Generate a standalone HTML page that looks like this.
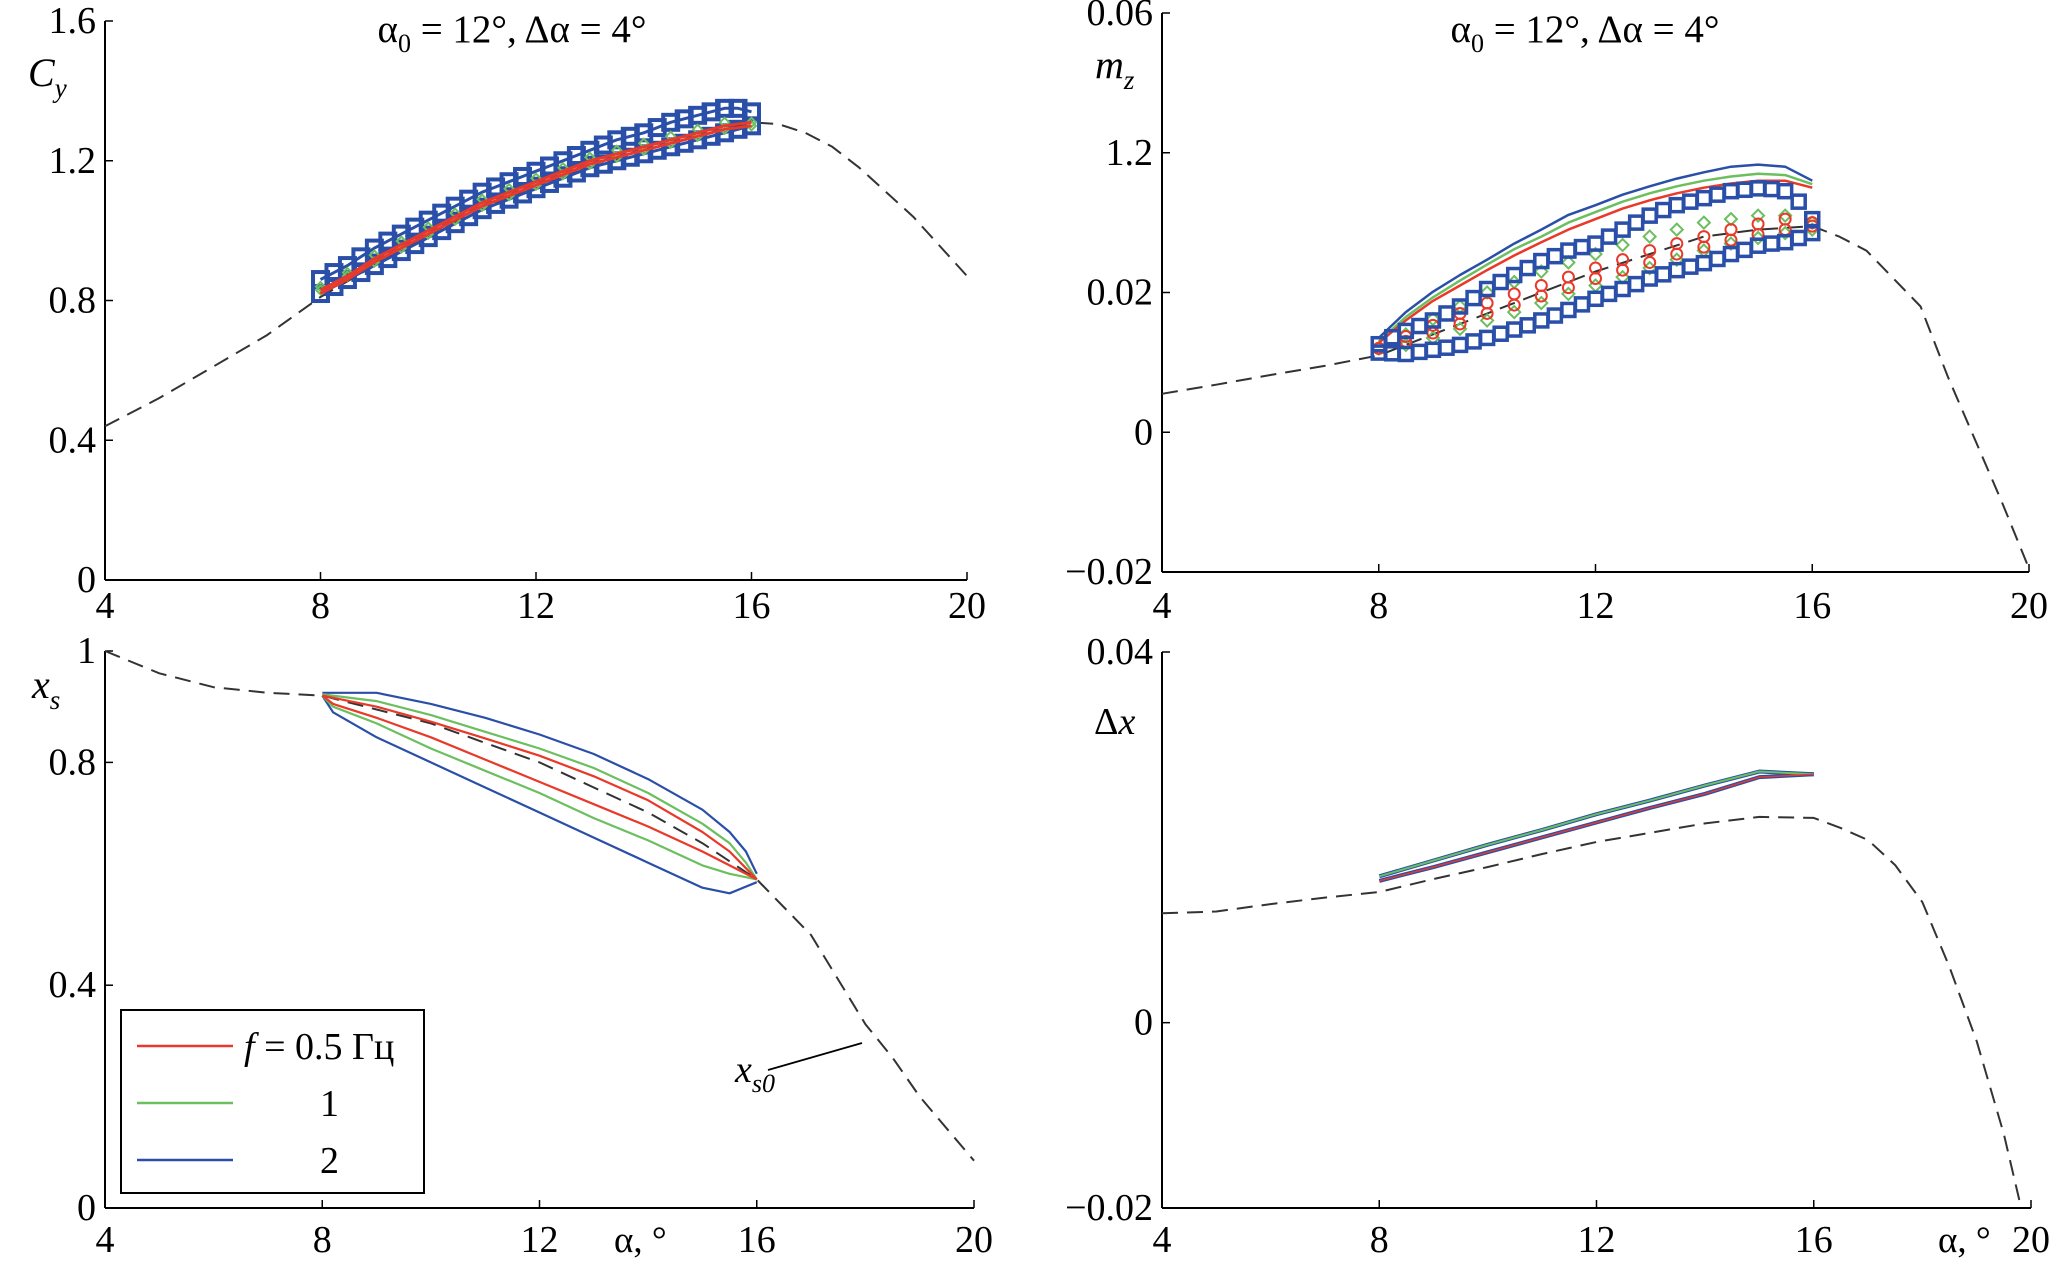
<!DOCTYPE html>
<html><head><meta charset="utf-8"><style>
html,body{margin:0;padding:0;background:#fff}
svg{display:block;font-family:"Liberation Serif",serif}
</style></head><body>
<svg id="fig" width="2067" height="1265" viewBox="0 0 2067 1265" xmlns="http://www.w3.org/2000/svg">
<g id="layer"></g>
<text x="512" y="42" font-size="39" text-anchor="middle">α<tspan font-size="26" dy="10">0</tspan><tspan dy="-10"> = 12°, Δα = 4°</tspan></text>
<text x="1585" y="42" font-size="39" text-anchor="middle">α<tspan font-size="26" dy="10">0</tspan><tspan dy="-10"> = 12°, Δα = 4°</tspan></text>
<text x="28" y="86" font-size="40" font-style="italic">C<tspan font-size="27" dy="11">y</tspan></text>
<text x="1095" y="78" font-size="40" font-style="italic">m<tspan font-size="27" dy="11">z</tspan></text>
<text x="32" y="698" font-size="40" font-style="italic">x<tspan font-size="27" dy="11">s</tspan></text>
<text x="1094" y="734" font-size="38">Δ<tspan font-style="italic">x</tspan></text>
<text x="614" y="1252" font-size="37">α, °</text>
<text x="1938" y="1252" font-size="37">α, °</text>
<g>
<rect x="121" y="1010" width="303" height="183" fill="#fff" stroke="#000" stroke-width="2"/>
<line x1="137" y1="1046" x2="233" y2="1046" stroke="#e8392a" stroke-width="2.5"/>
<text x="244" y="1059" font-size="38"><tspan font-style="italic">f</tspan> = 0.5 Гц</text>
<line x1="137" y1="1103" x2="233" y2="1103" stroke="#6cbf5f" stroke-width="2.5"/>
<text x="320" y="1116" font-size="38">1</text>
<line x1="137" y1="1160" x2="233" y2="1160" stroke="#2a4fa8" stroke-width="2.5"/>
<text x="320" y="1173" font-size="38">2</text>
</g>
<g>
<line x1="768" y1="1070" x2="862" y2="1043" stroke="#000" stroke-width="1.8"/>
<text x="735" y="1082" font-size="38" font-style="italic">x<tspan font-size="26" dy="10">s0</tspan></text>
</g>
</svg>
<script>
// ---------- data ----------
const alphaHalf=[8,8.5,9,9.5,10,10.5,11,11.5,12,12.5,13,13.5,14,14.5,15,15.5,16];
const alphaQuarter=[8,8.25,8.5,8.75,9,9.25,9.5,9.75,10,10.25,10.5,10.75,11,11.25,11.5,11.75,12,12.25,12.5,12.75,13,13.25,13.5,13.75,14,14.25,14.5,14.75,15,15.25,15.5,15.75,16];
const alphaCyBase=[4,5,6,7,8,9,10,11,12,13,14,15,16,16.5,17,17.5,18,19,20];
const cyBase=[0.44,0.52,0.61,0.7,0.81,0.9,0.99,1.06,1.13,1.18,1.23,1.27,1.31,1.305,1.28,1.24,1.18,1.04,0.87];
const cyBlueUp=[0.86,0.88,0.90,0.925,0.95,0.97,0.99,1.01,1.03,1.05,1.07,1.09,1.11,1.125,1.14,1.155,1.17,1.185,1.2,1.215,1.23,1.245,1.26,1.27,1.28,1.295,1.31,1.32,1.33,1.34,1.35,1.35,1.34];
const cyBlueDown=[0.82,0.84,0.86,0.88,0.9,0.92,0.94,0.96,0.98,1.0,1.02,1.04,1.06,1.075,1.09,1.105,1.12,1.135,1.15,1.165,1.18,1.19,1.2,1.21,1.22,1.23,1.24,1.25,1.26,1.27,1.28,1.29,1.3];
const cyGreenUp=[0.84,0.88,0.93,0.97,1.01,1.05,1.09,1.12,1.15,1.18,1.21,1.23,1.25,1.27,1.29,1.31,1.31];
const cyGreenDown=[0.83,0.87,0.91,0.95,0.99,1.03,1.07,1.1,1.13,1.16,1.19,1.21,1.23,1.25,1.27,1.29,1.3];
const cyRedUp=[0.83,0.87,0.92,0.96,1.0,1.04,1.08,1.11,1.14,1.17,1.2,1.22,1.24,1.26,1.28,1.3,1.31];
const cyRedDown=[0.82,0.86,0.91,0.95,0.99,1.03,1.07,1.1,1.13,1.16,1.19,1.21,1.23,1.25,1.27,1.29,1.3];

const alphaMzBase=[4,5,6,7,8,9,10,11,12,13,14,15,16,16.5,17,17.5,18,18.5,19,19.5,20];
const mzBase=[0.0055,0.0068,0.0082,0.0095,0.011,0.014,0.017,0.020,0.023,0.0255,0.028,0.029,0.0295,0.028,0.026,0.022,0.018,0.008,-0.001,-0.01,-0.0195];
const mzBlueSqUp=[0.0126,0.0136,0.0145,0.0152,0.016,0.017,0.018,0.0192,0.0205,0.0215,0.0225,0.0235,0.0245,0.0252,0.026,0.0265,0.027,0.028,0.029,0.030,0.031,0.0318,0.0325,0.033,0.0335,0.034,0.0345,0.0347,0.0349,0.0348,0.0345,0.033,0.0305];
const mzBlueSqDown=[0.0114,0.0113,0.0112,0.0115,0.0118,0.0121,0.0125,0.013,0.0135,0.0141,0.0147,0.0153,0.016,0.0167,0.0175,0.0183,0.0191,0.0198,0.0205,0.0212,0.022,0.0226,0.0232,0.0237,0.0242,0.0248,0.0255,0.0261,0.0267,0.027,0.0272,0.0278,0.0285];
const mzBlueLine=[0.0135,0.0172,0.0201,0.0225,0.0247,0.027,0.029,0.0311,0.0325,0.034,0.0352,0.0363,0.0372,0.038,0.0383,0.038,0.036];
const mzGreenLine=[0.013,0.0165,0.0193,0.0217,0.024,0.0262,0.028,0.03,0.0315,0.033,0.0342,0.0352,0.036,0.0366,0.037,0.0368,0.0355];
const mzRedLine=[0.0128,0.016,0.0188,0.021,0.0232,0.0253,0.0272,0.029,0.0305,0.032,0.0332,0.0342,0.035,0.0356,0.036,0.036,0.035];
const mzGreenUp=[0.012,0.014,0.0162,0.018,0.020,0.0215,0.023,0.0243,0.0255,0.0268,0.028,0.029,0.030,0.0305,0.031,0.031,0.030];
const mzGreenDown=[0.012,0.0125,0.0135,0.0148,0.016,0.0172,0.0185,0.0198,0.021,0.0222,0.0235,0.0247,0.026,0.027,0.0278,0.0285,0.029];
const mzRedUp=[0.012,0.0137,0.0153,0.017,0.0185,0.0198,0.021,0.0222,0.0235,0.0247,0.026,0.027,0.028,0.029,0.0298,0.0305,0.030];
const mzRedDown=[0.012,0.013,0.0142,0.0155,0.017,0.0182,0.0195,0.0207,0.022,0.0232,0.0243,0.0255,0.0265,0.0275,0.0283,0.029,0.0295];

const alphaXsBase=[4,5,6,7,8,9,10,11,12,13,14,15,16,17,17.5,18,18.5,19,20];
const xsBase=[1.0,0.96,0.935,0.925,0.92,0.895,0.87,0.835,0.8,0.755,0.71,0.655,0.59,0.49,0.41,0.33,0.27,0.2,0.085];
const alphaXsUp=[8,9,10,11,12,13,14,15,15.5,15.8,16];
const xsBlueUp=[0.925,0.925,0.905,0.88,0.85,0.815,0.77,0.715,0.675,0.64,0.6];
const xsGreenUp=[0.922,0.91,0.885,0.855,0.825,0.79,0.745,0.69,0.655,0.62,0.59];
const xsRedUp=[0.92,0.9,0.873,0.843,0.812,0.775,0.732,0.675,0.64,0.61,0.59];
const alphaXsDown=[8,8.2,9,10,11,12,13,14,15,15.5,16];
const xsBlueDown=[0.92,0.89,0.845,0.8,0.755,0.71,0.665,0.62,0.575,0.565,0.585];
const xsGreenDown=[0.92,0.9,0.87,0.825,0.785,0.745,0.7,0.66,0.615,0.6,0.59];
const xsRedDown=[0.92,0.905,0.88,0.845,0.805,0.765,0.725,0.685,0.64,0.615,0.59];

const alphaDxBase=[4,5,6,7,8,9,10,11,12,13,14,15,16,16.5,17,17.5,18,18.5,19,19.5,19.8];
const dxBase=[0.0118,0.012,0.0128,0.0135,0.0141,0.0155,0.0168,0.0182,0.0195,0.0205,0.0215,0.0222,0.0221,0.021,0.0197,0.017,0.013,0.006,-0.002,-0.012,-0.0195];
const alphaDx=[8,9,10,11,12,13,14,15,16];
const dxUp=[0.0158,0.0175,0.0192,0.0208,0.0225,0.024,0.0256,0.0271,0.0268];
const dxDown=[0.0153,0.0168,0.0184,0.02,0.0216,0.0232,0.0247,0.0265,0.0268];

const xTicks=[4,8,12,16,20];
const xTickLabels=["4","8","12","16","20"];
const cyTicks=[0,0.4,0.8,1.2,1.6];
const cyTickLabels=["0","0.4","0.8","1.2","1.6"];
const mzTicks=[-0.02,0,0.02,0.04,0.06];
const mzTickLabels=["\u22120.02","0","0.02","1.2","0.06"];
const xsTicks=[0,0.4,0.8,1];
const xsTickLabels=["0","0.4","0.8","1"];
const dxTicks=[-0.02,0,0.04];
const dxTickLabels=["\u22120.02","0","0.04"];

// ---------- drawing ----------
const NS="http://www.w3.org/2000/svg";
const layer=document.getElementById('layer');
const BLUE="#2a4fa8",GREEN="#6cbf5f",RED="#e8392a";
function mk(tag,attrs,parent){const e=document.createElementNS(NS,tag);for(const k in attrs)e.setAttribute(k,attrs[k]);(parent||layer).appendChild(e);return e;}
function panel(name,px0,px1,py0,py1,xmin,xmax,ymin,ymax){
  const g=mk('g',{});
  
  
  return {g,sx:v=>px0+(v-xmin)/(xmax-xmin)*(px1-px0),sy:v=>py0+(v-ymin)/(ymax-ymin)*(py1-py0),px0,px1,py0,py1};
}
function axes(P,yt,ytl,xlabY){
  const a=mk('g',{},P.g);
  
  
  mk('line',{x1:P.px0,y1:P.py0,x2:P.px1,y2:P.py0,stroke:'#000','stroke-width':2},a);
  mk('line',{x1:P.px0,y1:P.py0,x2:P.px0,y2:P.sy(yt[yt.length-1]),stroke:'#000','stroke-width':2},a);
  xTicks.forEach((t,i)=>{
    const x=P.sx(t);
    mk('line',{x1:x,y1:P.py0,x2:x,y2:P.py0-8,stroke:'#000','stroke-width':1.5},a);
    const tx=mk('text',{x:x,y:xlabY,'font-size':38,'text-anchor':'middle'},a);
    
    
    tx.textContent=xTickLabels[i];
  });
  yt.forEach((t,i)=>{
    const y=P.sy(t);
    mk('line',{x1:P.px0,y1:y,x2:P.px0+8,y2:y,stroke:'#000','stroke-width':1.5},a);
    const tx=mk('text',{x:P.px0-9,y:y+12,'font-size':38,'text-anchor':'end'},a);
    
    
    tx.textContent=ytl[i];
  });
}
function line(P,name,xs,ys,color,w,dash){
  const pts=xs.map((x,i)=>P.sx(x).toFixed(1)+','+P.sy(ys[i]).toFixed(1)).join(' ');
  const e=mk('polyline',{points:pts,fill:'none',stroke:color,'stroke-width':w,'stroke-linejoin':'round'},P.g);
  if(dash)e.setAttribute('stroke-dasharray',dash);
  
  
}
function markers(P,name,xs,ys,color,shape,s,sw){
  const g=mk('g',{},P.g);
  
  
  xs.forEach((x,i)=>{
    const cx=P.sx(x),cy=P.sy(ys[i]);
    let e;
    if(shape==='sq')e=mk('rect',{x:cx-s/2,y:cy-s/2,width:s,height:s,fill:'none',stroke:color,'stroke-width':sw||3.5},g);
    else if(shape==='ci')e=mk('circle',{cx:cx,cy:cy,r:s/2,fill:'none',stroke:color,'stroke-width':sw||2},g);
    else e=mk('polygon',{points:`${cx},${cy-s/2} ${cx+s/2},${cy} ${cx},${cy+s/2} ${cx-s/2},${cy}`,fill:'none',stroke:color,'stroke-width':sw||2},g);
    
    
  });
}
// Panel 1: Cy
const P1=panel('panel-cy',105,967,580,21,4,20,0,1.6);
axes(P1,cyTicks,cyTickLabels,618);
line(P1,'cy-static-dashed',alphaCyBase,cyBase,'#333',2,'16,9');
line(P1,'cy-blue-up-line',alphaQuarter,cyBlueUp,BLUE,3);
line(P1,'cy-blue-down-line',alphaQuarter,cyBlueDown,BLUE,3);
markers(P1,'cy-blue-up',alphaQuarter,cyBlueUp,BLUE,'sq',15,4);
markers(P1,'cy-blue-down',alphaQuarter,cyBlueDown,BLUE,'sq',15,4);
markers(P1,'cy-green-up',alphaHalf,cyGreenUp,GREEN,'di',9);
markers(P1,'cy-green-down',alphaHalf,cyGreenDown,GREEN,'di',9);
line(P1,'cy-red-up',alphaHalf,cyRedUp,RED,3);
line(P1,'cy-red-down',alphaHalf,cyRedDown,RED,3);
// Panel 2: mz
const P2=panel('panel-mz',1162,2029,572,13,4,20,-0.02,0.06);
axes(P2,mzTicks,mzTickLabels,618);
line(P2,'mz-static-dashed',alphaMzBase,mzBase,'#333',2,'16,9');
line(P2,'mz-blue-line',alphaHalf,mzBlueLine,BLUE,2.5);
line(P2,'mz-green-line',alphaHalf,mzGreenLine,GREEN,2.5);
line(P2,'mz-red-line',alphaHalf,mzRedLine,RED,2.5);
markers(P2,'mz-green-up',alphaHalf,mzGreenUp,GREEN,'di',12);
markers(P2,'mz-green-down',alphaHalf,mzGreenDown,GREEN,'di',12);
markers(P2,'mz-red-up',alphaHalf,mzRedUp,RED,'ci',11);
markers(P2,'mz-red-down',alphaHalf,mzRedDown,RED,'ci',11);
markers(P2,'mz-blue-up',alphaQuarter,mzBlueSqUp,BLUE,'sq',13,3.5);
markers(P2,'mz-blue-down',alphaQuarter,mzBlueSqDown,BLUE,'sq',13,3.5);
// Panel 3: xs
const P3=panel('panel-xs',105,974,1208,651,4,20,0,1);
axes(P3,xsTicks,xsTickLabels,1252);
line(P3,'xs-static-dashed',alphaXsBase,xsBase,'#333',2,'16,9');
line(P3,'xs-blue-up',alphaXsUp,xsBlueUp,BLUE,2.2);
line(P3,'xs-blue-down',alphaXsDown,xsBlueDown,BLUE,2.2);
line(P3,'xs-green-up',alphaXsUp,xsGreenUp,GREEN,2.2);
line(P3,'xs-green-down',alphaXsDown,xsGreenDown,GREEN,2.2);
line(P3,'xs-red-up',alphaXsUp,xsRedUp,RED,2.2);
line(P3,'xs-red-down',alphaXsDown,xsRedDown,RED,2.2);
// Panel 4: dx
const P4=panel('panel-dx',1162,2031,1208,652,4,20,-0.02,0.04);
axes(P4,dxTicks,dxTickLabels,1252);
line(P4,'dx-static-dashed',alphaDxBase,dxBase,'#333',2,'16,9');
line(P4,'dx-blue-up',alphaDx,dxUp,BLUE,4);
line(P4,'dx-blue-down',alphaDx,dxDown,BLUE,4);
line(P4,'dx-green-up',alphaDx,dxUp,GREEN,2);
line(P4,'dx-red-down',alphaDx,dxDown,RED,1.5);
</script>
</body></html>
